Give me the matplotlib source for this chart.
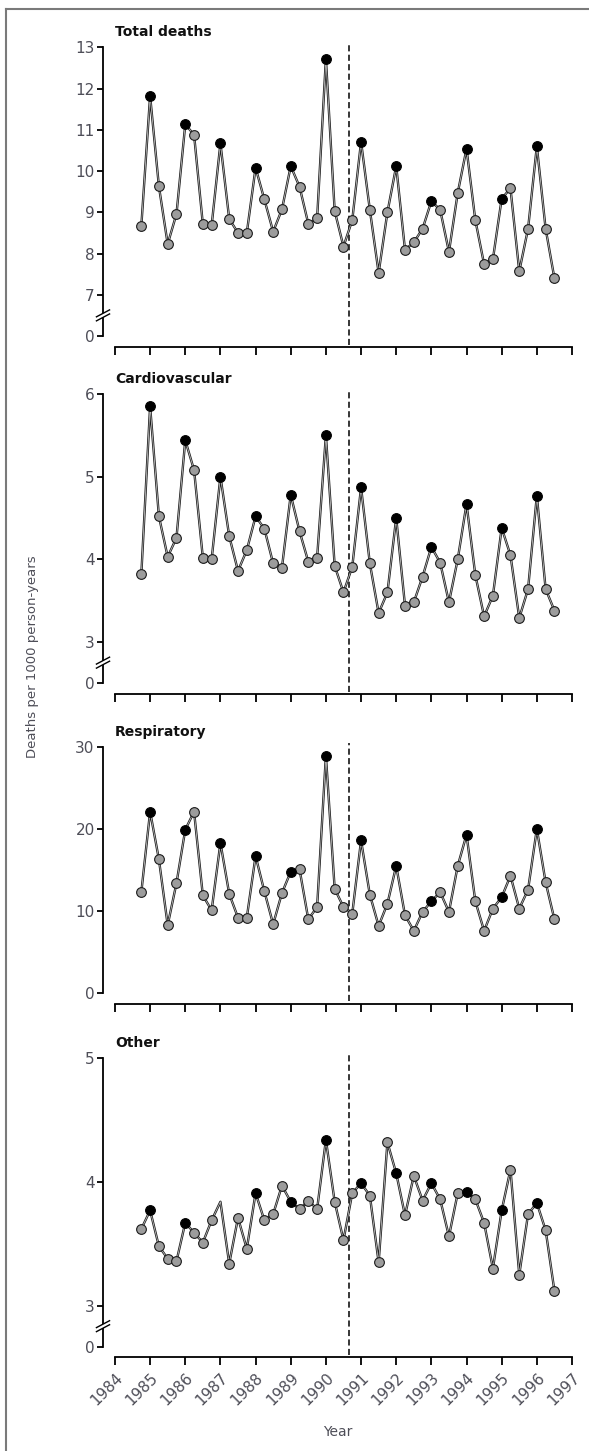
import numpy as np
import matplotlib
matplotlib.use('Agg')
import matplotlib.pyplot as plt
from matplotlib.lines import Line2D
from matplotlib.patches import Polygon

# quarterly time points, Q4 1984 .. Q3 1996
quarters = np.arange(1984.75, 1996.51, 0.25)
coal_ban = 1990.67

total_deaths = [8.67, 11.82, 9.63, 8.23, 8.96, 11.13, 10.88, 8.71, 8.68, 10.67, 8.84, 8.50,
                8.50, 10.08, 9.31, 8.53, 9.07, 10.12, 9.62, 8.72, 8.85, 12.72, 9.03, 8.17,
                8.81, 10.71, 9.06, 7.53, 9.00, 10.12, 8.09, 8.27, 8.60, 9.27, 9.06, 8.04,
                9.47, 10.54, 8.81, 7.74, 7.86, 9.33, 9.58, 7.57, 8.60, 10.60, 8.60, 7.40]
cardiovascular = [3.82, 5.85, 4.52, 4.03, 4.26, 5.44, 5.08, 4.02, 4.00, 5.00, 4.28, 3.86,
                  4.11, 4.52, 4.37, 3.95, 3.90, 4.78, 4.34, 3.97, 4.02, 5.50, 3.92, 3.60,
                  3.91, 4.87, 3.95, 3.35, 3.60, 4.50, 3.44, 3.48, 3.79, 4.15, 3.96, 3.48,
                  4.00, 4.67, 3.81, 3.31, 3.56, 4.38, 4.05, 3.29, 3.64, 4.77, 3.64, 3.38]
respiratory = [12.3, 22.1, 16.3, 8.3, 13.4, 19.9, 22.1, 11.9, 10.1, 18.3, 12.1, 9.2,
               9.2, 16.7, 12.4, 8.4, 12.2, 14.8, 15.1, 9.0, 10.5, 28.9, 12.7, 10.5,
               9.7, 18.6, 12.0, 8.2, 10.9, 15.5, 9.5, 7.6, 9.9, 11.2, 12.3, 9.9,
               15.5, 19.3, 11.2, 7.6, 10.3, 11.7, 14.3, 10.3, 12.6, 20.0, 13.5, 9.0]
other = [3.62, 3.77, 3.48, 3.38, 3.36, 3.67, 3.59, 3.51, 3.69, 3.84, 3.34, 3.71,
         3.46, 3.91, 3.69, 3.74, 3.97, 3.84, 3.78, 3.85, 3.78, 4.34, 3.84, 3.53,
         3.91, 3.99, 3.89, 3.35, 4.32, 4.07, 3.73, 4.05, 3.85, 3.99, 3.86, 3.56,
         3.91, 3.92, 3.86, 3.67, 3.30, 3.77, 4.10, 3.25, 3.74, 3.83, 3.61, 3.12]
other_no_marker = [1987.0]

titles = ['Total deaths', 'Cardiovascular', 'Respiratory', 'Other']
series = [total_deaths, cardiovascular, respiratory, other]
ytick_vals = [[7, 8, 9, 10, 11, 12, 13], [3, 4, 5, 6], [0, 10, 20, 30], [3, 4, 5]]
year_ticks = list(range(1984, 1998))

# panel layout in pixels (top, zero-line) and the axis value shown for "0"
W, H = 589, 1451
panels = [(47.3, 336.0, 6.0, 13.0, True),
          (394.0, 683.3, 2.5, 6.0, True),
          (746.7, 993.3, 0.0, 30.0, False),
          (1058.3, 1346.7, 2.668, 5.0, True)]
x_left, x_right = 103, 572

txt_col = '#4e4e58'
fig = plt.figure(figsize=(W / 100, H / 100), dpi=100)

for k, (top, bot, ylo, yhi, broken) in enumerate(panels):
    ax = fig.add_axes([x_left / W, 1 - bot / H, (x_right - x_left) / W, (bot - top) / H])
    ax.set_xlim(1983.66, 1997.0)
    ax.set_ylim(ylo, yhi)
    vals = np.array(series[k])
    ax.plot(quarters, vals, color='#1a1a1a', lw=1.7, zorder=2, clip_on=False)
    ax.plot(quarters, vals, color='#bdbdbd', lw=0.6, zorder=3, clip_on=False)
    winter = (quarters % 1 == 0)
    show = np.ones(len(quarters), bool)
    if titles[k] == 'Other':
        for yr in other_no_marker:
            show &= ~np.isclose(quarters, yr)
    ax.plot(quarters[show & ~winter], vals[show & ~winter], 'o', ms=7, mfc='#9c9c9c',
            mec='#1a1a1a', mew=0.8, ls='none', zorder=4, clip_on=False)
    ax.plot(quarters[show & winter], vals[show & winter], 'o', ms=7, mfc='black',
            mec='black', mew=0.8, ls='none', zorder=4, clip_on=False)

    ax.axvline(coal_ban, ymin=-0.03, ymax=1.015, color='black', lw=1.1,
               ls=(0, (4, 2.2)), clip_on=False, zorder=1)

    for s in ['top', 'right']:
        ax.spines[s].set_visible(False)
    ax.spines['left'].set_linewidth(1.3)
    ax.spines['bottom'].set_linewidth(1.3)
    ax.spines['bottom'].set_position(('outward', 7.6))
    ax.spines['bottom'].set_bounds(1984, 1997)
    ax.spines['left'].set_bounds(ylo, yhi)

    yt = list(ytick_vals[k])
    if broken:
        ax.set_yticks([ylo] + yt)
        ax.set_yticklabels(['0'] + [str(v) for v in yt])
    else:
        ax.set_yticks(yt)
        ax.set_yticklabels([str(v) for v in yt])
    ax.tick_params(axis='y', direction='out', length=4, width=1.3, labelsize=11,
                   labelcolor=txt_col, pad=2)
    ax.set_xticks(year_ticks)
    ax.tick_params(axis='x', direction='out', length=6, width=1.3)
    if k == 3:
        ax.set_xticklabels([str(y) for y in year_ticks], rotation=45, ha='right',
                           va='top', rotation_mode='anchor', fontsize=11, color=txt_col)
        ax.tick_params(axis='x', pad=3)
        ax.set_xlabel('Year', fontsize=10, color=txt_col, labelpad=12)
    else:
        ax.set_xticklabels([])

    if broken:
        # axis break marks on the left spine
        frac = 0.5 * (yt[0] - ylo) / (yhi - ylo)
        dx, dy, gap = 0.014, 0.012, 0.007
        cx, cy = 0.0, frac
        poly = Polygon([(cx - dx, cy - dy - gap), (cx + dx, cy + dy - gap),
                        (cx + dx, cy + dy + gap), (cx - dx, cy - dy + gap)],
                       closed=True, transform=ax.transAxes, facecolor='white',
                       edgecolor='none', clip_on=False, zorder=5)
        ax.add_patch(poly)
        for off in (-gap, gap):
            ax.add_line(Line2D([cx - dx, cx + dx], [cy - dy + off, cy + dy + off],
                               transform=ax.transAxes, color='black', lw=1.0,
                               clip_on=False, zorder=6))

    ax.annotate(titles[k], xy=(1984, 1), xycoords=('data', 'axes fraction'),
                xytext=(0, 8), textcoords='offset points', ha='left', va='baseline',
                fontsize=10, fontweight='bold', color='#111111')

fig.text(33 / W, 1 - 657 / H, 'Deaths per 1000 person-years', rotation=90,
         ha='center', va='center', fontsize=9.5, color=txt_col)

# gray frame (top and left edges)
fig.add_artist(Line2D([5.5 / W, 1], [1 - 8.5 / H, 1 - 8.5 / H], color='#7a7a7a', lw=1.5))
fig.add_artist(Line2D([5.5 / W, 5.5 / W], [0, 1 - 8.5 / H], color='#7a7a7a', lw=1.5))

fig.savefig('out.png', dpi=100)
